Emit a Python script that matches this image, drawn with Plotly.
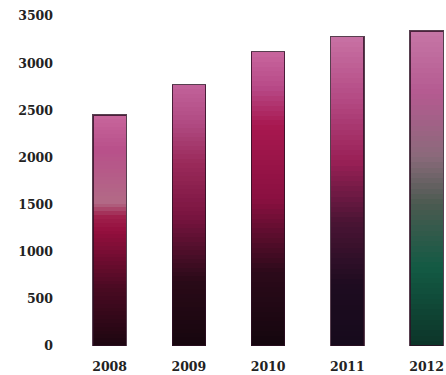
"""
Bar chart of yearly totals, 2008-2012, with shaded columns.
"""

import plotly.graph_objects as go

# chart data
years = ['2008', '2009', '2010', '2011', '2012']
values = [2450, 2770, 3120, 3280, 3340]
y_ticks = [0, 500, 1000, 1500, 2000, 2500, 3000, 3500]

# colour stops per bar, from bottom (0) to top (1)
bar_stops = [
    [(0.0, '#1c0610'), (0.25, '#4a0a22'), (0.5, '#940f3e'), (0.56, '#a0204c'),
     (0.62, '#b26a86'), (0.85, '#b8508a'), (1.0, '#c8669c')],
    [(0.0, '#16060e'), (0.25, '#2a0a18'), (0.5, '#7a1440'), (0.7, '#9a2a5a'),
     (0.85, '#b04a82'), (1.0, '#c2629a')],
    [(0.0, '#14060e'), (0.25, '#2c0a1a'), (0.5, '#8a1040'), (0.75, '#a81850'),
     (0.88, '#b84a88'), (1.0, '#c8669e')],
    [(0.0, '#160a1c'), (0.2, '#1e0c20'), (0.4, '#4a1434'), (0.6, '#9a2056'),
     (0.8, '#b44a84'), (1.0, '#c872a4')],
    [(0.0, '#0c3428'), (0.25, '#135a44'), (0.45, '#4a5a50'), (0.6, '#8a6a7a'),
     (0.8, '#b45a90'), (1.0, '#c676a6')],
]

N_SEG = 60


def hex_to_rgb(h):
    h = h.lstrip('#')
    return tuple(int(h[i:i + 2], 16) for i in (0, 2, 4))


def pick_color(stops, t):
    for (t0, c0), (t1, c1) in zip(stops, stops[1:]):
        if t0 <= t <= t1:
            f = 0 if t1 == t0 else (t - t0) / (t1 - t0)
            a, b = hex_to_rgb(c0), hex_to_rgb(c1)
            return 'rgb({},{},{})'.format(*[round(x + (y - x) * f) for x, y in zip(a, b)])
    return stops[-1][1]


fig = go.Figure()

# shaded columns: each bar split into equal slices of its own value
for k in range(N_SEG):
    t = (k + 0.5) / N_SEG
    fig.add_trace(go.Bar(
        x=years,
        y=[v / N_SEG for v in values],
        width=0.42,
        marker={
            "color": [pick_color(s, t) for s in bar_stops],
            "line_width": 0,
        },
        hoverinfo='skip',
        showlegend=False,
    ))

# outline on top of the shaded columns
fig.add_trace(go.Bar(
    x=years,
    y=values,
    width=0.42,
    yaxis='y2',
    marker={
        "color": 'rgba(0,0,0,0)',
        "line_color": 'rgba(45,15,35,0.8)',
        "line_width": 1.2,
    },
    hoverinfo='skip',
    showlegend=False,
))

tick_font = {"family": 'DejaVu Serif', "size": 12.5, "color": '#222222',
             "weight": 'bold'}

fig.update_layout(
    width=446,
    height=375,
    margin={"l": 70, "r": 0, "t": 16, "b": 29},
    paper_bgcolor='white',
    plot_bgcolor='white',
    barmode='stack',
    xaxis={
        "type": 'category',
        "range": [-0.5, 4.245],
        "automargin": False,
        "showline": False,
        "showgrid": False,
        "zeroline": False,
        "ticks": '',
        "tickfont": tick_font,
        "ticklabelstandoff": 11,
    },
    yaxis={
        "range": [0, 3500],
        "tickvals": y_ticks,
        "automargin": False,
        "showline": False,
        "showgrid": False,
        "zeroline": False,
        "ticks": '',
        "tickfont": tick_font,
        "ticklabelstandoff": 16,
    },
    yaxis2={
        "range": [0, 3500],
        "overlaying": 'y',
        "visible": False,
    },
)

# drop the page's default body margin so the figure sits at the corner
fig.write_html("out.html", config={"displayModeBar": False},
               post_script="document.body.style.margin = '0';")
